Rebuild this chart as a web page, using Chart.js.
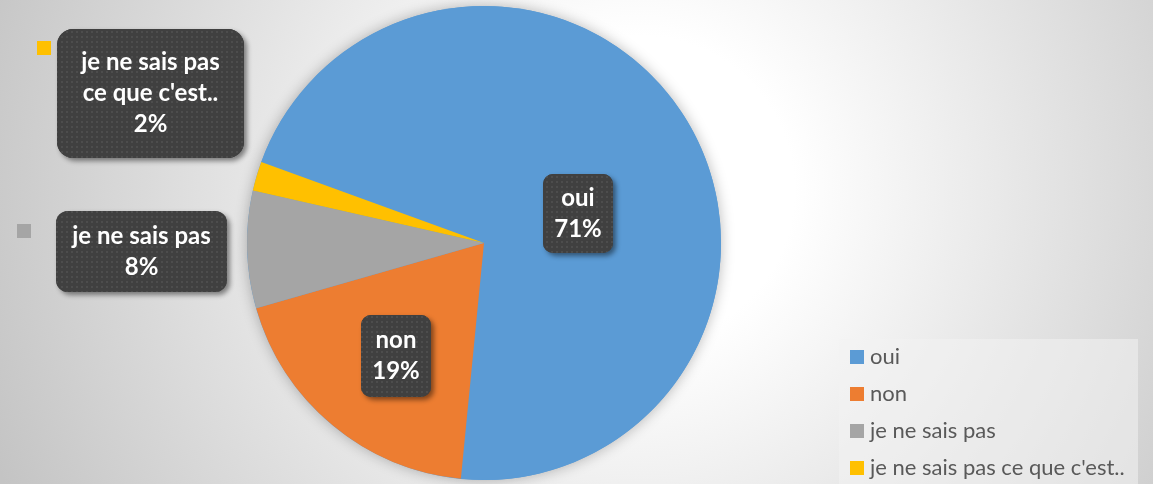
<!DOCTYPE html>
<html>
<head>
<meta charset="utf-8">
<script src="https://cdn.jsdelivr.net/npm/chart.js@4/dist/chart.umd.min.js"></script>
<style>
  html, body { margin: 0; padding: 0; background: #d6d6d6; }
  #wrap { width: 1153px; height: 484px; position: relative; }
</style>
</head>
<body>
<div id="wrap"><canvas id="myChart" width="1153" height="484"></canvas></div>
<script>
// data
const categories = ['oui', 'non', 'je ne sais pas', "je ne sais pas ce que c'est.."];
const percentages = [71, 19, 8, 2];
const sliceColors = ['#5b9bd5', '#ed7d31', '#a5a5a5', '#ffc000'];

// label boxes placed as in the original (x, y, w, h of the dark callouts)
const callouts = [
    { lines: ['oui', '71%'], box: [543, 174, 70, 79], r: 10 },
    { lines: ['non', '19%'], box: [361, 315, 70, 82], r: 10 },
    { lines: ['je ne sais pas', '8%'], box: [56, 211, 171, 81], r: 12, key: [17, 224] },
    { lines: ['je ne sais pas', "ce que c'est..", '2%'], box: [57, 29, 187, 129], r: 16, key: [37, 41] }
];

document.addEventListener("DOMContentLoaded", () => {
    const ctx = document.getElementById('myChart').getContext('2d');

    // little dotted texture used inside the callouts
    const dotCanvas = document.createElement('canvas');
    dotCanvas.width = 5;
    dotCanvas.height = 5;
    const dctx = dotCanvas.getContext('2d');
    dctx.fillStyle = '#404040';
    dctx.fillRect(0, 0, 5, 5);
    dctx.fillStyle = '#4d4d4d';
    dctx.fillRect(1, 1, 2, 2);
    const dotPattern = ctx.createPattern(dotCanvas, 'repeat');

    function roundRect(c, x, y, w, h, r) {
        c.beginPath();
        c.moveTo(x + r, y);
        c.arcTo(x + w, y, x + w, y + h, r);
        c.arcTo(x + w, y + h, x, y + h, r);
        c.arcTo(x, y + h, x, y, r);
        c.arcTo(x, y, x + w, y, r);
        c.closePath();
    }

    const backgroundPlugin = {
        id: 'bg',
        beforeDraw(chart) {
            const c = chart.ctx;
            const g = c.createRadialGradient(640, 190, 0, 640, 190, 700);
            g.addColorStop(0, '#ffffff');
            g.addColorStop(0.22, '#ffffff');
            g.addColorStop(0.55, '#e6e6e6');
            g.addColorStop(1, '#c4c4c4');
            c.save();
            c.fillStyle = g;
            c.fillRect(0, 0, chart.width, chart.height);
            c.restore();
        },
        beforeDatasetsDraw(chart) {
            // soft shadow around the pie
            const arc = chart.getDatasetMeta(0).data[0];
            const c = chart.ctx;
            c.save();
            c.shadowColor = 'rgba(0,0,0,0.28)';
            c.shadowBlur = 14;
            c.fillStyle = '#5b9bd5';
            c.beginPath();
            c.arc(arc.x, arc.y, arc.outerRadius, 0, Math.PI * 2);
            c.fill();
            c.restore();
        }
    };

    const calloutPlugin = {
        id: 'callouts',
        afterDatasetsDraw(chart) {
            const c = chart.ctx;
            callouts.forEach((lab, i) => {
                const [x, y, w, h] = lab.box;
                c.save();
                c.shadowColor = 'rgba(0,0,0,0.45)';
                c.shadowBlur = 5;
                c.shadowOffsetX = 3;
                c.shadowOffsetY = 3;
                roundRect(c, x, y, w, h, lab.r);
                c.fillStyle = '#404040';
                c.fill();
                c.restore();
                c.save();
                roundRect(c, x, y, w, h, lab.r);
                c.fillStyle = dotPattern;
                c.fill();
                c.fillStyle = '#ffffff';
                c.font = 'bold 24px Lato';
                c.textAlign = 'center';
                c.textBaseline = 'middle';
                const step = 31;
                const top = y + h / 2 - (lab.lines.length - 1) * step / 2;
                lab.lines.forEach((t, k) => c.fillText(t, x + w / 2, top + k * step));
                if (lab.key) {
                    c.fillStyle = sliceColors[i];
                    c.fillRect(lab.key[0], lab.key[1], 14, 14);
                }
                c.restore();
            });
        }
    };

    const legendPlugin = {
        id: 'sideLegend',
        afterDraw(chart) {
            const c = chart.ctx;
            c.save();
            c.fillStyle = 'rgba(242,242,242,0.55)';
            c.fillRect(839, 339, 299, 145);
            c.font = '22px Lato';
            c.textBaseline = 'middle';
            chart.data.labels.forEach((lbl, i) => {
                const cy = 357 + i * 37;
                c.fillStyle = chart.data.datasets[0].backgroundColor[i];
                c.fillRect(850, cy - 7, 14, 14);
                c.fillStyle = '#595959';
                c.fillText(lbl, 870, cy);
            });
            c.restore();
        }
    };

    new Chart(ctx, {
        type: 'pie',
        data: {
            labels: categories,
            datasets: [{
                data: percentages,
                backgroundColor: sliceColors,
                borderWidth: 0
            }]
        },
        options: {
            responsive: false,
            animation: false,
            rotation: 290,
            layout: {
                padding: { left: 247, right: 432, top: 6, bottom: 4 }
            },
            plugins: {
                legend: { display: false },
                tooltip: { enabled: false }
            }
        },
        plugins: [backgroundPlugin, calloutPlugin, legendPlugin]
    });
});
</script>
</body>
</html>
